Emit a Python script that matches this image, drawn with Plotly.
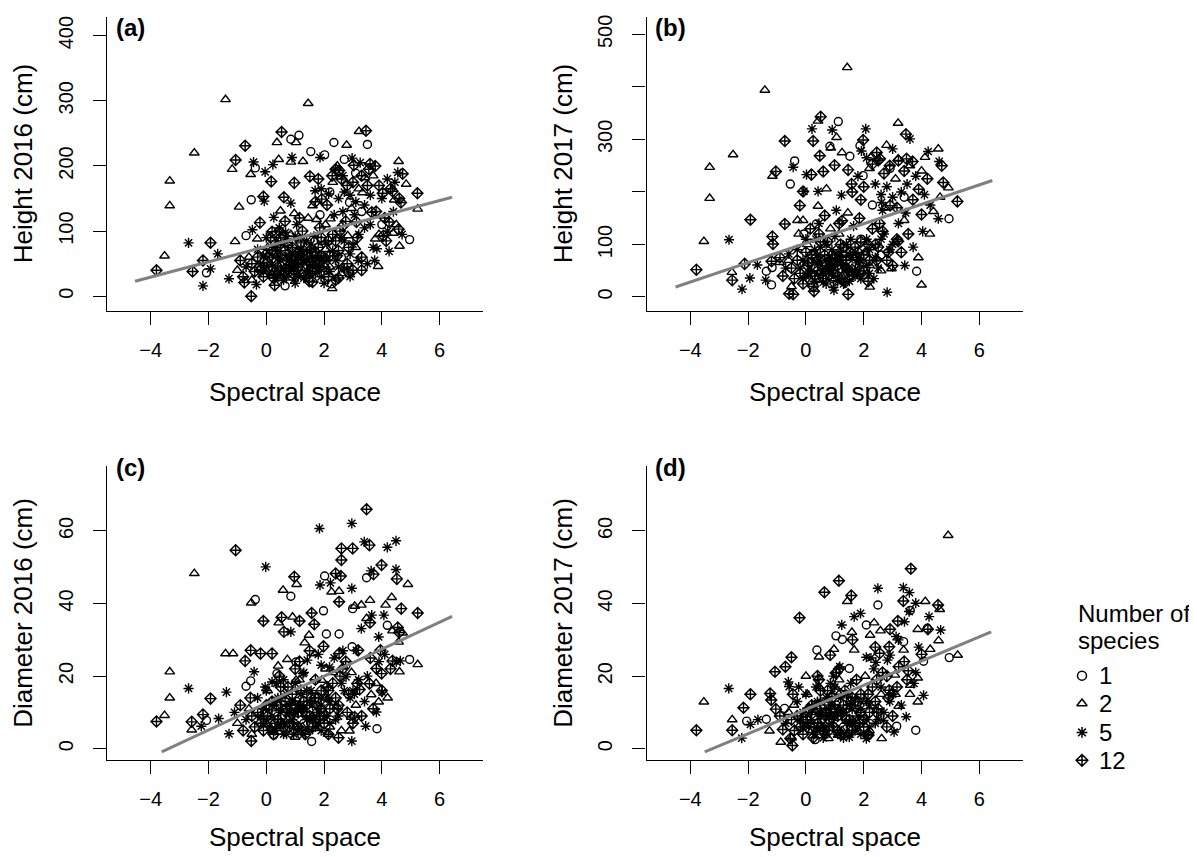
import plotly.graph_objects as go

FONT = "Liberation Sans, Arial, Helvetica, sans-serif"
# the page adds an 8 px body margin, so the figure is 8 px smaller than the window
SCREEN_W, SCREEN_H, PAGE_MARGIN = 1197, 857, 8
W, H = SCREEN_W - PAGE_MARGIN, SCREEN_H - PAGE_MARGIN

# ---------------- data ----------------
species_codes = [1, 2, 5, 12]
species_labels = ["1", "2", "5", "12"]
legend_title_lines = ["Number of", "species"]
panel_tags = ["(a)", "(b)", "(c)", "(d)"]
y_titles = ["Height 2016 (cm)", "Height 2017 (cm)", "Diameter 2016 (cm)", "Diameter 2017 (cm)"]
x_title = "Spectral space"
x_ticks = [-4, -2, 0, 2, 4, 6]
y_ticks_a = [0, 100, 200, 300, 400]
y_ticks_b = [0, 100, 200, 300, 400, 500]
y_ticklabels_b = ["0", "100", "", "300", "", "500"]
y_ticks_cd = [0, 20, 40, 60]

# fitted lines: intercept, slope, x start, x end
fit_a = [76.3, 11.75, -4.54, 6.43]
fit_b = [102.4, 18.5, -4.51, 6.45]
fit_c = [12.57, 3.72, -3.62, 6.43]
fit_d = [10.8, 3.34, -3.5, 6.41]

# ---- panel (a): Height 2016 ----
a_1 = [(1.13,247),(0.85,241),(2.34,236),(3.5,233),(1.54,222),(2.02,217),(-0.38,197),(3.09,189),(-0.52,148),
       (4.96,87),(-2.07,36),(0.65,16),(2.26,19),(-0.70,93),(2.88,144),(1.86,125),(2.70,210),
       (0.3,52),(1.3,45),(0.55,62),(2.2,160),(1.9,85),(0.9,35),(2.6,60),(3.3,130),(4.0,110),
       (0.45,30),(1.05,68),(1.85,52)]
a_2 = [(-1.41,302),(1.45,296),(-2.49,220),(-3.34,177),(-3.34,139),(-3.52,62),(0.37,236),(1.03,236),(1.27,207),
       (0.43,210),(0.85,206),(-1.18,195),(-0.54,187),(-0.94,137),(2.78,232),(3.21,253),(4.58,207),(5.24,134),
       (4.61,77),(3.87,46),(2.28,12),(-1.08,84),(-0.31,88),(0.49,131),(0.97,127),(1.74,118),(3.33,159),(3.77,88),
       (4.84,172),(4.39,97),(4.43,148),(2.46,200),(3.41,182),(1.6,139),(2.22,119),(2.82,93),
       (0.2,35),(0.6,58),(1.0,38),(1.6,50),(0.05,75),(1.15,88),(-0.6,60),(-0.5,25),(-1.0,40),(0.85,95),(1.45,120),
       (2.2,45),(2.6,35),(3.1,75),(2.05,110),(2.95,135),(2.3,175),(3.2,165),(3.7,185),(3.9,95),(4.5,110),
       (0.35,62),(0.75,42),(1.25,35),(1.65,65),(2.05,72),(0.95,55)]
a_5 = [(-2.69,82),(-2.19,16),(-1.93,42),(-1.68,65),(-0.44,206),(-0.04,191),(0.23,202),(-0.07,146),(0.89,213),
       (0.85,143),(1.86,213),(1.69,162),(2.97,212),(4.19,180),(4.55,190),(4.25,69),(3.75,55),(3.18,55),(-0.48,102),
       (-1.29,27),(-0.34,18),(0.26,121),(0.67,98),(2.70,42),(3.83,73),(2.16,157),
       (0.0,45),(0.4,70),(0.7,30),(0.9,65),(1.2,72),(1.5,35),(1.8,42),(0.35,85),(0.95,25),(1.55,80),(-0.2,50),
       (-0.3,72),(-0.7,45),(0.45,105),(1.65,92),(1.05,110),(2.1,80),(2.4,55),(2.7,85),(2.9,65),(3.2,95),(3.4,105),
       (2.35,125),(2.65,130),(3.05,125),(1.9,165),(2.5,150),(2.7,160),(2.9,155),(3.1,145),(3.4,140),(3.6,155),
       (3.25,205),(2.65,185),(3.6,110),(4.0,150),(4.2,100),(4.4,130),(4.7,95),(3.7,75),(4.45,175),(3.5,50),
       (2.9,30),(2.0,20),(1.0,20),(0.2,48),(0.6,42),(1.0,50),(1.4,40),(0.8,62),(1.2,58),(0.4,58),(1.6,60),
       (0.1,35),(0.5,55),(0.9,45),(1.3,55),(1.7,35),(2.1,55),(0.3,75),(0.7,88),(1.1,30),(1.5,68),(1.9,60),
       (2.3,70),(-0.1,62),(0.6,25),(1.4,85),(-0.1,40),(0.3,28),(0.5,80),(0.8,55),(1.1,65),(1.3,28),(1.6,45),
       (1.9,30),(2.2,38),(2.5,45),(0.0,90),(1.0,92),(1.8,58),(2.6,90),(3.0,80)]
a_12 = [(-3.80,40),(-2.55,38),(-2.19,55),(-1.93,82),(-1.06,209),(-0.73,231),(0.53,252),(3.45,254),(-0.52,0),
        (-0.10,153),(-0.22,113),(0.20,99),(0.17,176),(0.97,174),(0.61,152),(5.23,158),(4.72,188),(3.59,203),
        (3.77,200),(3.03,201),(4.37,161),(4.03,158),(4.66,144),(2.52,193),(2.28,185),(1.92,149),(1.51,184),
        (1.49,23),(2.50,28),(2.85,37),(0.29,17),(-0.76,21),(4.58,103),(4.05,93),(3.65,129),(4.25,114),(3.12,114),
        (0.1,60),(0.5,40),(0.8,48),(1.1,55),(1.4,62),(1.7,68),(0.25,28),(0.75,78),(1.35,32),(1.75,55),(-0.4,38),
        (-0.8,30),(-0.1,30),(-0.9,55),(0.15,90),(1.25,100),(0.65,115),(1.85,105),(2.0,60),(2.3,95),(2.5,70),
        (2.8,50),(3.0,40),(3.3,60),(2.15,30),(2.55,100),(2.75,115),(1.7,145),(2.1,140),(2.6,180),(2.8,170),
        (3.0,175),(3.3,185),(3.5,170),(2.4,195),(1.8,180),(3.55,195),(3.8,130),(4.1,120),(4.3,165),(4.6,150),
        (3.9,170),(4.15,85),(3.3,40),(2.4,25),(1.6,22),(0.3,38),(0.7,55),(1.1,45),(1.5,52),(0.9,75),(1.3,70),
        (0.0,65),(-0.3,60),(0.2,70),(0.6,32),(1.0,62),(1.4,48),(1.8,75),(2.2,62),(0.4,45),(0.8,38),(1.2,82),
        (1.6,38),(2.0,45),(-0.2,40),(0.5,90),(1.9,90),(2.4,85),(0.05,52),(0.35,65),(0.65,70),(0.95,40),
        (1.25,60),(1.55,72),(1.85,45),(2.15,85),(2.45,62),(-0.5,50),(0.45,100),(1.15,120),(2.65,108),(2.85,75),
        (3.15,90)]

# ---- panel (b): Height 2017 ----
b_1 = [(1.12,334),(-0.39,259),(-0.54,215),(1.52,268),(1.87,288),(0.83,287),(3.83,49),(4.95,149),(-1.37,49),
       (-1.19,23),(-1.17,56),(2.91,245),(0.36,139),(-0.07,120),(1.98,231),
       (0.3,55),(1.3,40),(0.55,62),(2.3,175),(1.9,110),(0.9,35),(2.6,80),(3.4,190),(0.45,35),(1.05,80),(1.85,60)]
b_2 = [(1.43,437),(-1.42,394),(-2.52,271),(-3.33,247),(-3.33,188),(-3.53,106),(3.19,331),(2.79,289),(4.58,282),
       (1.06,304),(1.25,275),(0.86,284),(0.42,335),(-1.16,230),(0.42,173),(-0.29,146),(-0.1,146),(-2.56,47),
       (-0.91,66),(3.89,75),(4.0,23),(4.93,208),(4.64,190),(4.41,163),(4.12,266),(2.21,19),(2.24,266),(3.40,146),
       (3.19,263),(4.29,120),(2.96,54),(2.44,73),(0.71,206),
       (0.2,30),(0.6,70),(1.0,35),(1.6,55),(0.05,100),(1.15,120),(-0.6,70),(-0.5,20),(-0.25,120),(0.85,130),
       (1.45,160),(2.2,60),(2.6,50),(3.1,105),(2.05,40),(2.2,245),(3.1,225),(3.6,250),(4.0,240),(2.75,170),
       (0.35,70),(0.75,48),(1.25,40),(1.65,75),(2.05,85),(0.95,65)]
b_5 = [(-2.66,109),(-2.21,15),(-1.94,36),(-1.68,61),(0.21,320),(0.91,318),(2.07,320),(-0.44,247),(0.02,233),
       (-0.07,201),(0.42,201),(1.92,278),(3.0,282),(3.60,301),(4.23,277),(4.61,258),(2.81,9),(3.42,60),(4.04,125),
       (3.71,95),(-1.39,32),(-0.59,82),(0.97,13),(4.58,149),(1.23,194),(2.62,180),
       (0.0,40),(0.4,80),(0.7,25),(0.9,90),(1.2,85),(1.5,30),(1.8,45),(0.35,110),(0.95,18),(1.55,110),(-0.2,55),
       (-0.3,90),(-0.7,55),(0.45,140),(1.65,135),(1.05,165),(2.1,110),(2.4,75),(2.7,120),(2.9,90),(3.2,140),
       (2.35,35),(1.8,230),(2.4,215),(2.6,195),(2.8,210),(3.0,190),(3.3,200),(3.5,215),(3.8,230),(4.1,195),
       (4.3,175),(2.65,165),(3.45,160),(2.1,265),(0.2,50),(0.6,45),(1.0,60),(1.4,50),(0.8,70),(1.2,65),(0.4,65),
       (1.6,75),(0.1,45),(0.5,65),(0.9,50),(1.3,60),(1.7,40),(2.1,60),(0.3,90),(0.7,100),(1.1,30),(1.5,80),
       (1.9,70),(-0.1,70),(0.6,28),(1.4,100),(2.2,90),(-0.1,35),(0.3,30),(0.5,95),(0.8,60),(1.1,75),(1.3,25),
       (1.6,50),(1.9,35),(2.2,45),(2.5,55),(0.0,110),(1.0,115),(1.8,65),(2.6,110),(3.0,100)]
b_12 = [(-3.79,52),(-2.55,32),(-2.12,63),(-1.92,147),(-0.73,297),(0.51,343),(-1.04,239),(-0.10,201),(-0.21,174),
        (-0.73,139),(-1.16,115),(-1.14,101),(-1.19,68),(0.19,233),(0.6,239),(0.48,269),(0.99,251),(1.46,242),
        (1.98,299),(0.25,297),(3.46,310),(3.48,263),(3.69,258),(4.70,250),(4.75,218),(5.24,182),(4.0,157),
        (3.54,120),(3.19,106),(2.91,174),(1.46,5),(0.28,11),(-0.44,5),(-0.58,6),(2.56,263),(2.3,253),(1.58,215),
        (0.1,65),(0.5,45),(0.8,55),(1.1,60),(1.4,70),(1.7,95),(0.25,20),(0.75,105),(1.35,28),(1.75,75),(-0.4,35),
        (-0.8,40),(-0.1,25),(-0.9,75),(0.15,130),(1.25,145),(0.65,155),(1.85,150),(2.0,80),(2.3,130),(2.5,95),
        (2.8,70),(3.0,60),(3.3,85),(2.15,30),(2.55,140),(1.6,200),(2.0,210),(2.5,260),(2.7,235),(2.9,250),
        (3.2,260),(3.4,240),(3.7,185),(3.9,205),(4.2,225),(1.9,185),(3.15,170),(2.45,275),(0.3,40),(0.7,60),
        (1.1,40),(1.5,50),(0.9,80),(1.3,95),(0.0,85),(-0.3,70),(0.2,80),(0.6,35),(1.0,75),(1.4,55),(1.8,85),
        (2.2,70),(0.4,50),(0.8,42),(1.2,100),(1.6,42),(2.0,50),(-0.2,45),(0.5,105),(1.9,105),(2.4,100),
        (0.05,60),(0.35,75),(0.65,80),(0.95,45),(1.25,70),(1.55,85),(1.85,50),(2.15,100),(2.45,70),(-0.5,55),
        (0.45,120),(1.15,140),(2.65,125),(2.85,85),(3.15,110)]

# ---- panel (c): Diameter 2016 ----
c_1 = [(2.02,47.6),(3.47,47.1),(-0.38,41.1),(0.85,42.0),(1.98,38.0),(2.08,31.6),(2.52,31.6),(2.99,38.6),
       (4.19,34.0),(2.97,28.1),(4.96,24.6),(3.83,5.5),(1.57,2.0),(-0.70,17.2),(-0.54,18.7),(0.37,20.7),
       (1.03,23.9),(-2.07,7.8),(0.26,3.7),(2.76,23.0),(0.3,10),(1.3,7),(0.55,9),(0.45,5),(1.05,13),(1.85,9)]
c_2 = [(-2.49,48.3),(-3.34,21.2),(-3.34,14.0),(-3.52,9.2),(-2.58,5.2),(-0.52,40.2),(0.58,43.7),(1.05,45.3),
       (-1.15,26.2),(-1.41,26.2),(0.91,36.3),(0.43,34.7),(2.52,43.4),(2.26,43.2),(3.59,40.9),(4.34,41.7),
       (4.13,39.6),(4.90,45.3),(5.24,23.2),(4.61,21.2),(4.58,29.4),(4.72,31.9),(4.37,32.5),(3.63,14.9),
       (3.89,12.9),(2.88,4.9),(2.14,4.0),(1.0,3.2),(0.73,24.6),(0.41,22.8),(1.48,31.3),(1.68,26.2),(3.47,35.9),
       (3.06,39.3),(1.33,29.2),(3.29,39.6),(2.94,8.7),(1.92,18.9),(1.03,18.9),
       (0.2,5),(0.6,11),(1.0,6),(1.6,9),(0.05,16),(1.15,19),(-0.6,11),(-0.5,4),(-1.0,7),(2.2,6),(2.6,5),(3.1,12),
       (2.05,22),(2.95,21),(2.3,21),(3.8,18),(4.2,14),(0.35,11),(0.75,8),(1.25,6),(1.65,12),(2.05,14),(0.95,10)]
c_5 = [(1.84,60.7),(2.96,62.1),(3.39,57.0),(4.49,57.3),(4.19,55.5),(-0.02,50.1),(4.49,49.4),(3.63,49.0),
       (1.86,45.1),(2.22,45.7),(2.96,44.2),(4.07,36.8),(3.65,36.8),(0.85,32.2),(3.29,33.1),(-2.69,16.6),
       (-1.38,15.6),(-1.29,4.1),(-1.65,8.3),(-2.25,6.2),(-0.42,21.2),(0.20,18.4),(-0.04,17.0),(1.42,24.4),
       (3.44,6.2),(2.96,2.1),(3.81,10.1),(4.01,15.6),(4.64,24.2),(3.12,27.1),(3.89,30.8),(2.19,22.5),(2.76,19.8),
       (1.27,20.7),
       (0.0,8),(0.4,14),(0.7,4),(0.9,13),(1.2,15),(1.5,5),(1.8,7),(0.35,18),(0.95,4),(1.55,16),(-0.2,9),(-0.3,14),
       (-0.7,8),(-1.1,10),(2.1,14),(2.4,8),(2.7,16),(2.9,14),(3.2,19),(2.35,25),(2.65,27),(3.05,15),(1.9,23),
       (1.3,21),(0.6,19),(1.8,26),(3.5,20),(3.9,24),(4.1,26),(3.4,13),(4.5,24),(0.2,9),(0.6,7),(1.0,10),(1.4,8),
       (0.8,12),(1.2,11),(0.4,6),(1.6,12),(0.1,6),(0.5,10),(0.9,8),(1.3,11),(1.7,6),(2.1,9),(0.3,13),(0.7,15),
       (1.1,5),(1.5,13),(1.9,12),(-0.1,11),(0.6,4),(1.4,16),(2.2,13),(-0.1,7),(0.3,5),(0.5,14),(0.8,10),
       (1.1,12),(1.3,4),(1.6,8),(1.9,5),(2.2,7),(2.5,9),(0.0,16),(1.0,18),(1.8,10),(2.6,18),(3.0,16)]
c_12 = [(3.47,66),(-1.06,54.7),(2.60,55.2),(2.99,55.2),(3.57,56.1),(2.60,52),(3.99,50.6),(2.40,48.3),(2.58,47.6),
        (3.71,48.1),(4.52,46.8),(0.97,47.4),(-0.10,35.2),(0.53,36.2),(1.15,35.2),(1.57,37.4),(0.61,32.2),
        (5.24,37.4),(4.67,38.6),(3.59,34.7),(4.55,33.4),(-0.54,27.1),(-0.20,26.2),(0.20,26.2),(-0.73,24.2),
        (-1.93,13.8),(-2.19,9.4),(-2.58,7.4),(-3.80,7.5),(-0.52,2.1),(2.50,3.0),(1.66,34.3),(1.98,28.2),
        (2.52,26.2),(3.18,27.1),(3.95,27.1),(4.37,24.2),(3.81,22.1),(3.23,16.3),(3.57,17.9),(3.99,20.7),
        (2.52,40.5),(3.06,8.7),
        (0.1,12),(0.5,7),(0.8,9),(1.1,10),(1.4,12),(1.7,14),(1.9,11),(0.25,4),(0.75,17),(1.35,4),(1.75,10),
        (-0.4,6),(-0.8,5),(-0.1,5),(-0.9,12),(-0.55,14),(2.0,9),(2.3,18),(2.5,12),(2.8,10),(3.0,7),(3.3,9),
        (2.15,4),(2.55,20),(2.75,24),(1.7,19),(2.1,17),(1.0,22),(1.5,27),(3.6,25),(4.0,16),(4.3,22),(3.7,11),
        (4.6,32),(0.3,7),(0.7,11),(1.1,6),(1.5,9),(0.9,15),(1.3,13),(0.0,12),(-0.3,10),(0.2,13),(0.6,6),
        (1.0,12),(1.4,9),(1.8,14),(2.2,11),(0.4,8),(0.8,6),(1.2,16),(1.6,6),(2.0,7),(-0.2,7),(0.5,17),(1.9,16),
        (2.4,14),(0.05,9),(0.35,12),(0.65,13),(0.95,7),(1.25,11),(1.55,14),(1.85,8),(2.15,16),(2.45,11),
        (-0.5,9),(0.45,20),(1.15,24),(2.65,22),(2.85,15),(3.15,18)]

# ---- panel (d): Diameter 2017 ----
d_1 = [(2.49,39.6),(2.09,34.1),(1.04,31.1),(1.26,30.1),(0.38,27.2),(3.38,29.5),(3.61,38.1),(4.96,25.1),
       (4.07,24.1),(3.80,5.1),(-2.05,7.6),(-1.37,8.1),(0.32,2.5),(3.14,6.2),(1.50,22.1),(-0.74,11.1),(4.20,33.2),
       (0.3,9),(1.3,6),(0.55,8),(0.45,4),(1.05,12),(1.85,8)]
d_2 = [(4.92,58.8),(5.25,25.8),(-3.53,12.9),(-2.55,8.0),(1.43,40.6),(4.13,40.6),(2.36,34.7),(2.58,32.5),
       (2.22,31.3),(1.59,32.1),(4.63,38.4),(4.59,29.8),(4.30,27.4),(3.38,27.2),(3.87,32.9),(3.61,17.5),
       (3.87,12.9),(0.97,27.4),(0.45,25.3),(1.67,27.2),(0.0,20.0),(-0.87,1.8),(2.62,2.8),(0.78,2.8),(1.11,3.7),
       (2.95,15.4),(3.21,11.7),(0.45,17.1),(-1.26,4.9),(-0.41,12.0),(3.87,19.5),(3.08,20.3),
       (0.2,5),(0.6,10),(1.0,17),(1.6,8),(0.05,15),(1.15,19),(0.9,15),(-0.6,10),(-0.5,3),(2.2,5),(2.6,15),
       (3.1,15),(2.05,20),(3.6,15),(0.35,10),(0.75,7),(1.25,5),(1.65,11),(2.05,13),(0.95,9)]
d_5 = [(-2.67,16.6),(-2.22,2.9),(-1.92,6.7),(-1.66,8.0),(2.49,44.2),(3.37,44.4),(3.58,43.0),(3.80,40.1),
       (1.24,34.1),(1.67,36.4),(1.89,37.3),(3.57,37.8),(3.41,35.0),(4.26,36.4),(4.66,32.7),(3.12,30.9),
       (2.91,25.8),(2.09,25.2),(2.42,23.8),(4.07,14.7),(3.47,8.8),(3.05,4.6),(2.09,2.8),(1.50,3.2),(-0.61,18.4),
       (-0.58,17.1),(3.74,18.0),(2.82,24.4),(2.68,7.8),(1.17,22.6),
       (0.0,7),(0.4,13),(0.7,4),(0.9,12),(1.2,14),(1.5,4),(1.8,6),(0.35,17),(0.95,20),(1.55,18),(0.85,18),
       (-0.2,8),(-0.3,13),(-0.7,7),(-0.25,17),(2.1,13),(2.4,7),(2.7,10),(2.9,13),(2.35,22),(2.25,25),(3.3,12),
       (3.8,21),(3.9,28),(3.2,30),(0.2,8),(0.6,6),(1.0,9),(1.4,7),(0.8,11),(1.2,10),(0.4,5),(1.6,11),
       (0.1,6),(0.5,9),(0.9,7),(1.3,10),(1.7,5),(2.1,8),(0.3,12),(0.7,14),(1.1,4),(1.5,12),(1.9,11),(-0.1,10),
       (0.6,3),(1.4,15),(2.2,12),(-0.1,6),(0.3,4),(0.5,13),(0.8,9),(1.1,11),(1.3,3),(1.6,7),(1.9,4),(2.2,6),
       (2.5,8),(0.0,15),(1.0,17),(1.8,9),(2.6,17),(3.0,15)]
d_12 = [(3.63,49.6),(1.14,46.3),(1.57,42.2),(0.64,43.1),(-0.22,36.1),(3.37,40.7),(4.57,39.6),(4.22,32.9),
        (3.18,35.2),(2.91,32.9),(2.88,28.1),(2.55,26.3),(3.21,22.6),(3.54,21.5),(0.84,25.8),(1.61,30.0),
        (-0.50,25.2),(-0.71,22.6),(-1.07,21.2),(-1.92,15.0),(-2.16,11.3),(-2.55,5.1),(-3.79,5.1),(-1.24,15.2),
        (-1.20,13.4),(-1.04,10.9),(-0.80,5.3),(-0.47,0.9),(-0.54,2.8),(2.16,3.7),(0.51,9.4),(2.88,16.1),
        (0.1,11),(0.5,6),(0.8,8),(1.1,9),(1.4,11),(1.7,13),(1.9,10),(0.25,3),(0.75,16),(1.35,16),(1.75,19),
        (1.05,21),(-0.4,5),(-0.1,4),(-0.9,9),(-0.45,15),(2.0,8),(2.3,17),(2.5,11),(2.8,6),(3.0,9),(2.15,4),
        (2.45,19),(2.4,28),(3.5,19),(3.4,24),(4.0,26),(2.8,20),(1.6,14),(1.2,4),(0.4,20),(0.3,6),(0.7,10),
        (1.1,5),(1.5,8),(0.9,14),(1.3,12),(0.0,10),(-0.3,9),(0.2,12),(0.6,5),(1.0,11),(1.4,8),(1.8,13),
        (2.2,10),(0.4,7),(0.8,5),(1.2,15),(1.6,5),(2.0,6),(-0.2,6),(0.5,16),(1.9,15),(2.4,13),
        (0.05,8),(0.35,11),(0.65,12),(0.95,6),(1.25,10),(1.55,13),(1.85,7),(2.15,15),(2.45,10),(-0.5,8),
        (0.45,19),(1.15,22),(2.65,21),(2.85,14),(3.15,17)]

# ---------------- styling ----------------
symbols = {1: "circle-open", 2: "triangle-up-open", 5: "asterisk-open", 12: "diamond-cross-open"}
sizes = {1: 8, 2: 8.5, 5: 8.5, 12: 8.5}


def fx(p):
    """screen pixel x -> paper fraction"""
    return (p - PAGE_MARGIN) / W


def fy(p):
    """screen pixel y -> paper fraction"""
    return 1 - (p - PAGE_MARGIN) / H


# screen-pixel layout of the four plot regions
left_dom = [fx(107), fx(483)]
right_dom = [fx(646.6), fx(1022.7)]
top_dom = [fy(309), fy(14.5)]
bot_dom = [fy(759.3), fy(465)]
x_range = [-5.512, 7.50]

panels = [
    dict(data={1: a_1, 2: a_2, 5: a_5, 12: a_12}, fit=fit_a, xa="x", ya="y"),
    dict(data={1: b_1, 2: b_2, 5: b_5, 12: b_12}, fit=fit_b, xa="x2", ya="y2"),
    dict(data={1: c_1, 2: c_2, 5: c_5, 12: c_12}, fit=fit_c, xa="x3", ya="y3"),
    dict(data={1: d_1, 2: d_2, 5: d_5, 12: d_12}, fit=fit_d, xa="x4", ya="y4"),
]

fig = go.Figure()
for p in panels:
    for sp in species_codes:
        pts = p["data"][sp]
        fig.add_trace(go.Scatter(
            x=[q[0] for q in pts], y=[q[1] for q in pts], mode="markers",
            xaxis=p["xa"], yaxis=p["ya"], showlegend=False, hoverinfo="skip",
            marker=dict(symbol=symbols[sp], size=sizes[sp], color="black",
                        line=dict(color="black", width=1.4))))
    b0, b1, xs, xe = p["fit"]
    fig.add_trace(go.Scatter(
        x=[xs, xe], y=[b0 + b1 * xs, b0 + b1 * xe], mode="lines",
        xaxis=p["xa"], yaxis=p["ya"], showlegend=False, hoverinfo="skip",
        line=dict(color="#808080", width=3)))

# legend markers in a hidden axis scaled in screen pixels
leg_y = [675, 703, 732, 760]
for sp, yy in zip(species_codes, leg_y):
    fig.add_trace(go.Scatter(
        x=[1082], y=[yy], mode="markers", xaxis="x5", yaxis="y5", showlegend=False, hoverinfo="skip",
        marker=dict(symbol=symbols[sp], size=9, color="black", line=dict(color="black", width=1.5))))

tickfont = dict(family=FONT, size=20, color="black")
base = dict(showline=True, linecolor="black", linewidth=1.3, ticks="outside", ticklen=13,
            tickwidth=1.2, tickcolor="black", showgrid=False, zeroline=False,
            tickfont=tickfont, fixedrange=True)


def xax(dom, anchor):
    return dict(base, domain=dom, range=x_range, tickmode="array", tickvals=x_ticks,
                anchor=anchor, ticklabelstandoff=8)


def yax(dom, anchor, rng, vals, text=None):
    d = dict(base, domain=dom, range=rng, tickmode="array", tickvals=vals,
             anchor=anchor, tickangle=-90, ticklabelstandoff=12)
    if text is not None:
        d["ticktext"] = text
    return d


annotations = []
for tag, xl, yc in zip(panel_tags, [114, 653, 114, 653], [25, 25, 466, 466]):
    annotations.append(dict(text="<b>%s</b>" % tag, x=fx(xl), y=fy(yc), xref="paper", yref="paper",
                            xanchor="left", yanchor="middle", showarrow=False,
                            font=dict(family=FONT, size=24, color="black")))
for t, xc, yc in zip(y_titles, [23, 563, 23, 563], [161.75, 161.75, 612, 612]):
    annotations.append(dict(text=t, x=fx(xc), y=fy(yc), xref="paper", yref="paper", textangle=-90,
                            xanchor="center", yanchor="middle", showarrow=False,
                            font=dict(family=FONT, size=26, color="black")))
for xc, yc in zip([295, 834.7, 295, 834.7], [390, 390, 837, 837]):
    annotations.append(dict(text=x_title, x=fx(xc), y=fy(yc), xref="paper", yref="paper",
                            xanchor="center", yanchor="middle", showarrow=False,
                            font=dict(family=FONT, size=26, color="black")))
for line, yc in zip(legend_title_lines, [613, 640]):
    annotations.append(dict(text=line, x=fx(1076), y=fy(yc), xref="paper", yref="paper",
                            xanchor="left", yanchor="middle", showarrow=False,
                            font=dict(family=FONT, size=24, color="black")))
for lab, yy in zip(species_labels, leg_y):
    annotations.append(dict(text=lab, x=fx(1097), y=fy(yy), xref="paper", yref="paper",
                            xanchor="left", yanchor="middle", showarrow=False,
                            font=dict(family=FONT, size=24, color="black")))

fig.update_layout(
    width=W, height=H, margin=dict(l=0, r=0, t=0, b=0),
    paper_bgcolor="white", plot_bgcolor="white", showlegend=False,
    xaxis=xax(left_dom, "y"), yaxis=yax(top_dom, "x", [-22.5, 427.8], y_ticks_a),
    xaxis2=xax(right_dom, "y2"), yaxis2=yax(top_dom, "x2", [-26.6, 532.2], y_ticks_b, y_ticklabels_b),
    xaxis3=xax(left_dom, "y3"), yaxis3=yax(bot_dom, "x3", [-3.02, 77.8], y_ticks_cd),
    xaxis4=xax(right_dom, "y4"), yaxis4=yax(bot_dom, "x4", [-3.02, 77.8], y_ticks_cd),
    xaxis5=dict(domain=[fx(1040), fx(1197)], range=[1040, 1197], visible=False, fixedrange=True, anchor="y5"),
    yaxis5=dict(domain=[fy(800), fy(650)], range=[800, 650], visible=False, fixedrange=True, anchor="x5"),
    annotations=annotations,
)

fig.write_html("out.html")
